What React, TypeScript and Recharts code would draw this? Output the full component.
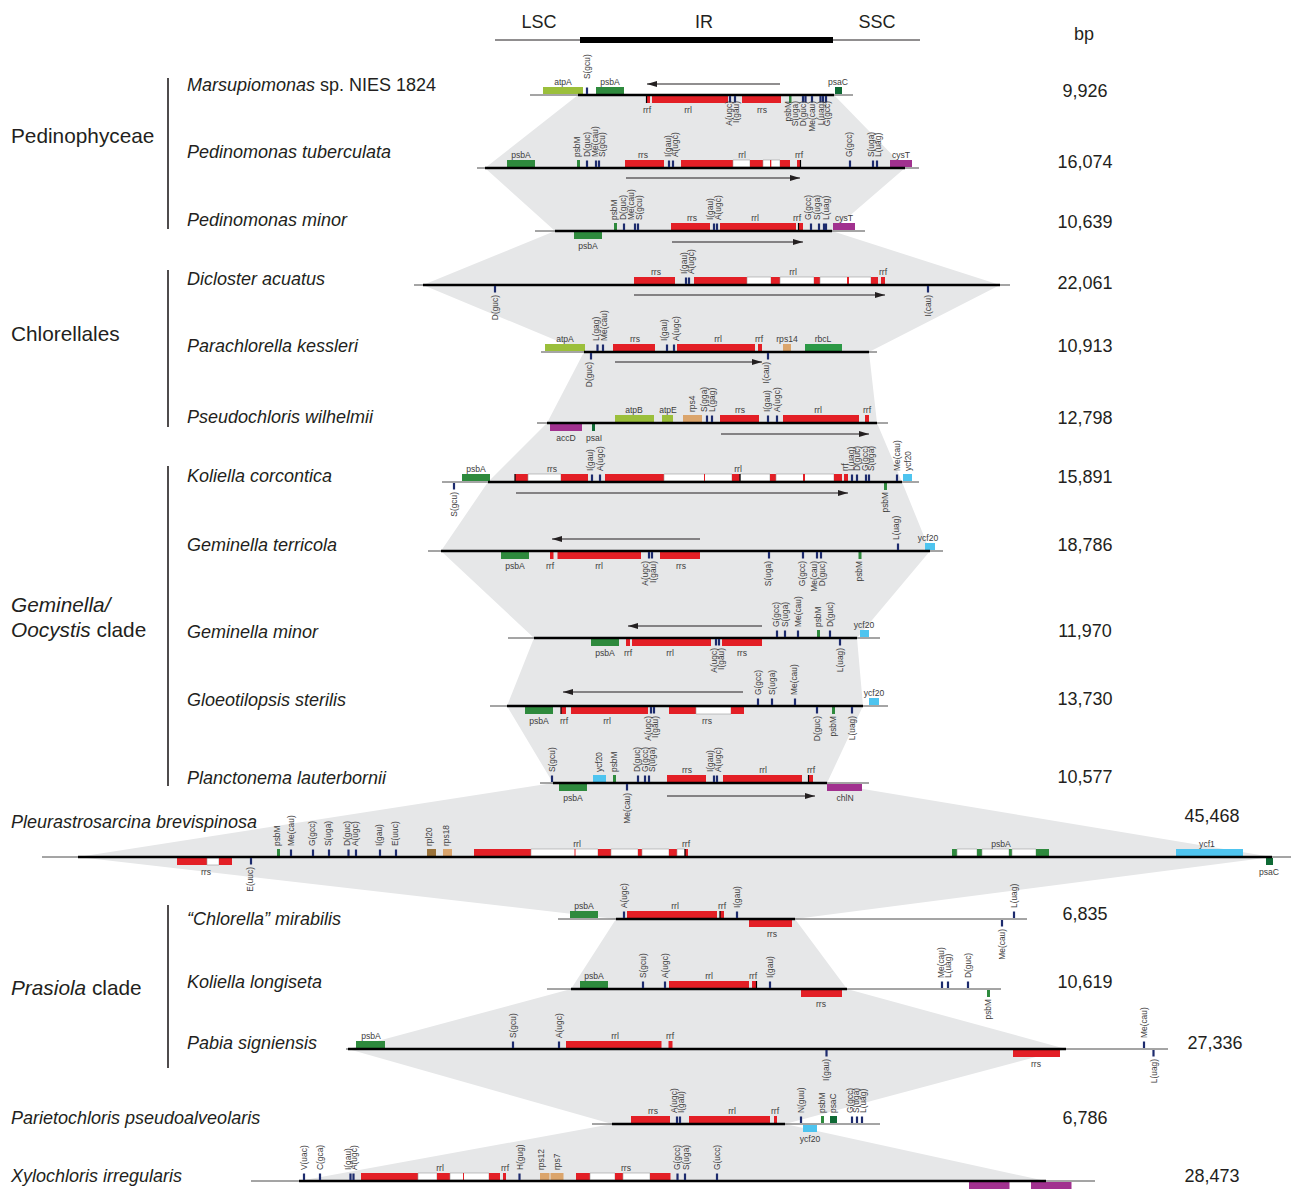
import React from 'react';
import { ComposedChart, Area, XAxis, YAxis, ReferenceArea, ReferenceLine, ReferenceDot } from 'recharts';

const W = 1291;
const H = 1193;
const FONT = '"Liberation Sans", Arial, Helvetica, sans-serif';

// [lineY, thinStart, thinEnd, thickStart, thickEnd]  (figure units)
const TRACKS: number[][] = [
  [95, 530, 853, 578, 834],
  [168, 477, 919, 485, 905],
  [231, 535, 865, 555, 832],
  [285, 414, 1010, 423, 1000],
  [352, 541, 877, 584, 869],
  [423, 537, 888, 547, 877],
  [482, 442, 919, 488, 902],
  [551, 428, 943, 441, 930],
  [638, 508, 880, 534, 857],
  [706, 490, 888, 507, 863],
  [783, 540, 869, 553, 827],
  [857, 42, 1291, 78, 1272],
  [919, 558, 1027, 616, 795],
  [989, 547, 1001, 571, 847],
  [1049, 346, 1168, 348, 1066],
  [1124, 592, 880, 612, 785],
  [1181, 251, 1095, 299, 1046],
];

// [x, baseline, parts [text, italic]]
const SPECIES: [number, number, [string, number][]][] = [
  [187, 91, [['Marsupiomonas', 1], [' sp. NIES 1824', 0]]],
  [187, 158, [['Pedinomonas tuberculata', 1]]],
  [187, 226, [['Pedinomonas minor', 1]]],
  [187, 285, [['Dicloster acuatus', 1]]],
  [187, 352, [['Parachlorella kessleri', 1]]],
  [187, 423, [['Pseudochloris wilhelmii', 1]]],
  [187, 482, [['Koliella corcontica', 1]]],
  [187, 551, [['Geminella terricola', 1]]],
  [187, 638, [['Geminella minor', 1]]],
  [187, 706, [['Gloeotilopsis sterilis', 1]]],
  [187, 784, [['Planctonema lauterbornii', 1]]],
  [11, 828, [['Pleurastrosarcina brevispinosa', 1]]],
  [187, 925, [['\u201cChlorella\u201d mirabilis', 1]]],
  [187, 988, [['Koliella longiseta', 1]]],
  [187, 1049, [['Pabia signiensis', 1]]],
  [11, 1124, [['Parietochloris pseudoalveolaris', 1]]],
  [11, 1182, [['Xylochloris irregularis', 1]]],
];

const GROUPS: [number, number, [string, number][]][] = [
  [11, 143, [['Pedinophyceae', 0]]],
  [11, 341, [['Chlorellales', 0]]],
  [11, 612, [['Geminella/', 1]]],
  [11, 637, [['Oocystis', 1], [' clade', 0]]],
  [11, 995, [['Prasiola', 1], [' clade', 0]]],
];

// bracket lines [x, yTop, yBottom]
const BRACKETS: number[][] = [
  [168, 78, 229],
  [168, 270, 427],
  [168, 466, 786],
  [168, 905, 1068],
];

// genome sizes [centerX, baseline, label]
const BP: [number, number, string][] = [
  [1085, 97, '9,926'], [1085, 168, '16,074'], [1085, 228, '10,639'], [1085, 289, '22,061'],
  [1085, 352, '10,913'], [1085, 424, '12,798'], [1085, 483, '15,891'], [1085, 551, '18,786'],
  [1085, 637, '11,970'], [1085, 705, '13,730'], [1085, 783, '10,577'], [1212, 822, '45,468'],
  [1085, 920, '6,835'], [1085, 988, '10,619'], [1215, 1049, '27,336'], [1085, 1124, '6,786'],
  [1212, 1182, '28,473'],
];

const HEADER: [number, number, string][] = [
  [539, 28, 'LSC'], [704, 28, 'IR'], [877, 28, 'SSC'], [1084, 40, 'bp'],
];

const COLORS: Record<string, string> = {
  r: '#e31f26', w: '#ffffff', g: '#2e8a3d', lg: '#9bbf3b', dg: '#0f6a35',
  p: '#a1318f', t: '#dba56c', b: '#9b733a', c: '#4ec4ef', rb: '#2c9946',
};

// genes [track, x1, x2, side(1 above / -1 below), kind]
const GENES: [number, number, number, number, string][] = [
  [0, 543, 583, 1, 'lg'], [0, 596, 624, 1, 'g'], [0, 835, 842, 1, 'dg'], [0, 647, 650, -1, 'r'], [0, 652, 728, -1, 'r'], [0, 742, 781, -1, 'r'], [0, 789, 791.5, -1, 'g'],
  [1, 507, 535, 1, 'g'], [1, 577, 580, 1, 'g'], [1, 625, 664, 1, 'r'], [1, 681, 733, 1, 'r'], [1, 733, 750, 1, 'w'], [1, 750, 763, 1, 'r'], [1, 763, 780, 1, 'w'], [1, 770, 771.3, 1, 'r'], [1, 780, 790, 1, 'r'], [1, 797, 800, 1, 'r'], [1, 890, 912, 1, 'p'],
  [2, 574, 602, -1, 'g'], [2, 614, 617, 1, 'g'], [2, 671, 710, 1, 'r'], [2, 720, 796, 1, 'r'], [2, 799, 803, 1, 'r'], [2, 833, 855, 1, 'p'],
  [3, 634, 675, 1, 'r'], [3, 694, 747, 1, 'r'], [3, 747, 771, 1, 'w'], [3, 771, 780, 1, 'r'], [3, 780, 814, 1, 'w'], [3, 814, 820, 1, 'r'], [3, 820, 871, 1, 'w'], [3, 847, 849, 1, 'r'], [3, 871, 878, 1, 'r'], [3, 881, 885, 1, 'r'],
  [4, 545, 585, 1, 'lg'], [4, 613, 655, 1, 'r'], [4, 677, 755, 1, 'r'], [4, 758, 762, 1, 'r'], [4, 783, 791, 1, 't'], [4, 805, 842, 1, 'rb'],
  [5, 615, 654, 1, 'lg'], [5, 662, 673, 1, 'lg'], [5, 683, 702, 1, 't'], [5, 720, 759, 1, 'r'], [5, 783, 859, 1, 'r'], [5, 865, 869, 1, 'r'], [5, 550, 582, -1, 'p'], [5, 592, 595, -1, 'dg'],
  [6, 462, 490, 1, 'g'], [6, 515, 528, 1, 'r'], [6, 528, 561, 1, 'w'], [6, 561, 588, 1, 'r'], [6, 605, 664, 1, 'r'], [6, 664, 732, 1, 'w'], [6, 704, 705, 1, 'r'], [6, 732, 740, 1, 'r'], [6, 740, 770, 1, 'w'], [6, 770, 776, 1, 'r'], [6, 776, 834, 1, 'w'], [6, 803, 805, 1, 'r'], [6, 834, 842, 1, 'r'], [6, 844, 848, 1, 'r'], [6, 903, 912, 1, 'c'], [6, 884, 887, -1, 'g'],
  [7, 501, 529, -1, 'g'], [7, 550, 553.5, -1, 'r'], [7, 557.5, 641, -1, 'r'], [7, 660, 700, -1, 'r'], [7, 858.5, 861.5, -1, 'g'], [7, 925, 935, 1, 'c'],
  [8, 591, 619, -1, 'g'], [8, 626, 630, -1, 'r'], [8, 632, 711, -1, 'r'], [8, 722, 762, -1, 'r'], [8, 817, 820, 1, 'g'], [8, 860, 869, 1, 'c'],
  [9, 525, 553, -1, 'g'], [9, 561, 566, -1, 'r'], [9, 571, 648, -1, 'r'], [9, 669, 696, -1, 'r'], [9, 696, 731, -1, 'w'], [9, 731, 744, -1, 'r'], [9, 832, 835, -1, 'g'], [9, 869, 879, 1, 'c'],
  [10, 593, 606, 1, 'c'], [10, 613, 616, 1, 'g'], [10, 667, 706, 1, 'r'], [10, 723, 802, 1, 'r'], [10, 809, 813, 1, 'r'], [10, 559, 587, -1, 'g'], [10, 827, 862, -1, 'p'],
  [11, 277, 280, 1, 'g'], [11, 427, 436, 1, 'b'], [11, 443, 452, 1, 't'], [11, 474, 531, 1, 'r'], [11, 531, 598, 1, 'w'], [11, 574.5, 575.5, 1, 'r'], [11, 598, 611, 1, 'r'], [11, 611, 638, 1, 'w'], [11, 638, 642, 1, 'r'], [11, 642, 669, 1, 'w'], [11, 669, 677, 1, 'r'], [11, 677, 685, 1, 'w'], [11, 685, 688, 1, 'r'],
  [11, 952, 957, 1, 'g'], [11, 957, 977, 1, 'w'], [11, 977, 982, 1, 'g'], [11, 982, 1009, 1, 'w'], [11, 1009, 1012, 1, 'g'], [11, 1012, 1036, 1, 'w'], [11, 1036, 1049, 1, 'g'], [11, 1176, 1243, 1, 'c'],
  [11, 177, 207, -1, 'r'], [11, 207, 219, -1, 'w'], [11, 219, 232, -1, 'r'], [11, 1266, 1273, -1, 'dg'],
  [12, 570, 598, 1, 'g'], [12, 627, 717, 1, 'r'], [12, 720, 724, 1, 'r'], [12, 749, 792, -1, 'r'],
  [13, 580, 608, 1, 'g'], [13, 669, 749, 1, 'r'], [13, 752, 756, 1, 'r'], [13, 801, 842, -1, 'r'], [13, 987, 990, -1, 'g'],
  [14, 356, 385, 1, 'g'], [14, 566, 661.5, 1, 'r'], [14, 668.5, 672.5, 1, 'r'], [14, 1013, 1060, -1, 'r'],
  [15, 631, 670, 1, 'r'], [15, 689, 770, 1, 'r'], [15, 774, 777, 1, 'r'], [15, 821, 824, 1, 'g'], [15, 830, 837, 1, 'dg'], [15, 803, 817, -1, 'c'],
  [16, 361, 418, 1, 'r'], [16, 418, 437, 1, 'w'], [16, 437, 450, 1, 'r'], [16, 450, 489, 1, 'w'], [16, 463, 464, 1, 'r'], [16, 489, 500, 1, 'r'], [16, 503, 506, 1, 'r'], [16, 540, 549.5, 1, 't'], [16, 550.5, 563.5, 1, 't'],
  [16, 576, 590, 1, 'r'], [16, 590, 615, 1, 'w'], [16, 615, 623, 1, 'r'], [16, 623, 650, 1, 'w'], [16, 650, 670.5, 1, 'r'], [16, 969, 1009.5, -1, 'p'], [16, 1031, 1071.5, -1, 'p'],
];

// tRNA genes [track, x, side]
const TRNAS: number[][] = [
  [0, 587, 1], [0, 730, -1], [0, 735, -1], [0, 803, -1], [0, 805.5, -1], [0, 812, -1], [0, 820.5, -1], [0, 823, -1], [0, 826, -1],
  [1, 587, 1], [1, 596, 1], [1, 599, 1], [1, 669, 1], [1, 673, 1], [1, 850, 1], [1, 873, 1], [1, 877, 1],
  [2, 624, 1], [2, 635, 1], [2, 638, 1], [2, 714, 1], [2, 717, 1], [2, 811, 1], [2, 819, 1], [2, 824, 1], [2, 826, 1],
  [3, 686, 1], [3, 689, 1], [3, 495, -1], [3, 928, -1],
  [4, 597.5, 1], [4, 603, 1], [4, 667, 1], [4, 674, 1], [4, 591, -1], [4, 768, -1],
  [5, 707, 1], [5, 712, 1], [5, 768, 1], [5, 777, 1],
  [6, 592, 1], [6, 600, 1], [6, 852, 1], [6, 857, 1], [6, 866, 1], [6, 869, 1], [6, 897, 1], [6, 454, -1],
  [7, 649, -1], [7, 652, -1], [7, 769, -1], [7, 803, -1], [7, 817, -1], [7, 821, -1], [7, 898, 1],
  [8, 777, 1], [8, 785, 1], [8, 798, 1], [8, 830, 1], [8, 716, -1], [8, 719, -1], [8, 840, -1],
  [9, 758, 1], [9, 772, 1], [9, 795, 1], [9, 651, -1], [9, 654, -1], [9, 817, -1], [9, 852, -1],
  [10, 552, 1], [10, 638, 1], [10, 645, 1], [10, 649, 1], [10, 714, 1], [10, 717, 1], [10, 627, -1],
  [11, 291, 1], [11, 313, 1], [11, 329, 1], [11, 348.5, 1], [11, 356, 1], [11, 380, 1], [11, 396, 1], [11, 251, -1],
  [12, 624, 1], [12, 737, 1], [12, 1014, 1], [12, 1002, -1],
  [13, 643, 1], [13, 665, 1], [13, 770, 1], [13, 942, 1], [13, 948, 1], [13, 968, 1],
  [14, 513, 1], [14, 559, 1], [14, 1144, 1], [14, 826.5, -1], [14, 1153.5, -1],
  [15, 677, 1], [15, 680, 1], [15, 801, 1], [15, 852, 1], [15, 857, 1], [15, 862, 1],
  [16, 304, 1], [16, 320, 1], [16, 350.5, 1], [16, 353.5, 1], [16, 519.5, 1], [16, 677.5, 1], [16, 685, 1], [16, 717, 1],
];

// black boundary ticks [track, x, side]
const BOUNDS: number[][] = [
  [0, 646.5, -1], [1, 800.5, 1], [2, 798.5, 1], [6, 515, 1], [6, 740, 1], [9, 561, -1],
  [10, 808.5, 1], [11, 685, 1], [12, 720, 1], [13, 756.5, 1],
];

// arrows [track, from, to, y]
const ARROWS: number[][] = [
  [0, 780, 647, 84], [1, 626, 800, 178], [2, 672, 803, 242], [3, 634, 885, 295], [4, 615, 762, 362],
  [5, 721, 869, 434], [6, 516, 848, 493], [7, 700, 552, 539], [8, 762, 628, 626], [9, 743, 563, 692],
  [10, 667, 815, 796],
];

// gene labels [track, x, text, side, rotated, extra offset]
const LABELS: [number, number, string, number, number, number?][] = [
  [0, 563, 'atpA', 1, 0], [0, 610, 'psbA', 1, 0], [0, 838, 'psaC', 1, 0], [0, 647, 'rrf', -1, 0], [0, 688, 'rrl', -1, 0], [0, 762, 'rrs', -1, 0],
  [0, 587, 'S(gcu)', 1, 1, -5], [0, 729, 'A(ugc)', -1, 1, -4], [0, 736, 'I(gau)', -1, 1, -4], [0, 788, 'psbM', -1, 1, -4], [0, 795, 'S(uga)', -1, 1, -4],
  [0, 803, 'D(guc)', -1, 1, -4], [0, 812, 'Me(cau)', -1, 1, -4], [0, 821, 'L(uag)', -1, 1, -4], [0, 827, 'G(gcc)', -1, 1, -4],
  [1, 521, 'psbA', 1, 0], [1, 643, 'rrs', 1, 0], [1, 742, 'rrl', 1, 0], [1, 799, 'rrf', 1, 0], [1, 901, 'cysT', 1, 0],
  [1, 577, 'psbM', 1, 1], [1, 587, 'D(guc)', 1, 1], [1, 595, 'Me(cau)', 1, 1], [1, 602, 'S(gcu)', 1, 1], [1, 668, 'I(gau)', 1, 1], [1, 675, 'A(ugc)', 1, 1],
  [1, 849, 'G(gcc)', 1, 1], [1, 871, 'S(uga)', 1, 1], [1, 878, 'L(uag)', 1, 1],
  [2, 692, 'rrs', 1, 0], [2, 755, 'rrl', 1, 0], [2, 797, 'rrf', 1, 0], [2, 844, 'cysT', 1, 0], [2, 588, 'psbA', -1, 0],
  [2, 614, 'psbM', 1, 1], [2, 623, 'D(guc)', 1, 1], [2, 631, 'Me(cau)', 1, 1], [2, 639, 'S(gcu)', 1, 1], [2, 710, 'I(gau)', 1, 1], [2, 718, 'A(ugc)', 1, 1],
  [2, 808, 'G(gcc)', 1, 1], [2, 817, 'S(uga)', 1, 1], [2, 826, 'L(uag)', 1, 1],
  [3, 656, 'rrs', 1, 0], [3, 793, 'rrl', 1, 0], [3, 883, 'rrf', 1, 0], [3, 684, 'I(gau)', 1, 1], [3, 691, 'A(ugc)', 1, 1], [3, 495, 'D(guc)', -1, 1], [3, 928, 'I(cau)', -1, 1],
  [4, 565, 'atpA', 1, 0], [4, 635, 'rrs', 1, 0], [4, 718, 'rrl', 1, 0], [4, 759, 'rrf', 1, 0], [4, 787, 'rps14', 1, 0], [4, 823, 'rbcL', 1, 0],
  [4, 596, 'L(gag)', 1, 1], [4, 604, 'Me(cau)', 1, 1], [4, 664, 'I(gau)', 1, 1], [4, 676, 'A(ugc)', 1, 1], [4, 589, 'D(guc)', -1, 1], [4, 766, 'I(cau)', -1, 1],
  [5, 634, 'atpB', 1, 0], [5, 668, 'atpE', 1, 0], [5, 740, 'rrs', 1, 0], [5, 818, 'rrl', 1, 0], [5, 867, 'rrf', 1, 0], [5, 566, 'accD', -1, 0], [5, 594, 'psaI', -1, 0],
  [5, 692, 'rps4', 1, 1], [5, 704, 'S(gga)', 1, 1], [5, 712, 'L(gag)', 1, 1], [5, 767, 'I(gau)', 1, 1], [5, 777, 'A(ugc)', 1, 1],
  [6, 476, 'psbA', 1, 0], [6, 552, 'rrs', 1, 0], [6, 738, 'rrl', 1, 0], [6, 590, 'I(gau)', 1, 1], [6, 600, 'A(ugc)', 1, 1], [6, 845, 'rrf', 1, 1],
  [6, 851, 'L(uag)', 1, 1], [6, 857, 'D(guc)', 1, 1], [6, 865, 'G(gcc)', 1, 1], [6, 871, 'S(uga)', 1, 1], [6, 897, 'Me(cau)', 1, 1], [6, 908, 'ycf20', 1, 1],
  [6, 454, 'S(gcu)', -1, 1], [6, 885, 'psbM', -1, 1],
  [7, 515, 'psbA', -1, 0], [7, 550, 'rrf', -1, 0], [7, 599, 'rrl', -1, 0], [7, 681, 'rrs', -1, 0], [7, 928, 'ycf20', 1, 0],
  [7, 645, 'A(ugc)', -1, 1], [7, 653, 'I(gau)', -1, 1], [7, 768, 'S(uga)', -1, 1], [7, 802, 'G(gcc)', -1, 1], [7, 814, 'Me(cau)', -1, 1], [7, 822, 'D(guc)', -1, 1],
  [7, 859, 'psbM', -1, 1], [7, 896, 'L(uag)', 1, 1],
  [8, 605, 'psbA', -1, 0], [8, 628, 'rrf', -1, 0], [8, 670, 'rrl', -1, 0], [8, 742, 'rrs', -1, 0], [8, 864, 'ycf20', 1, 0],
  [8, 776, 'G(gcc)', 1, 1], [8, 785, 'S(uga)', 1, 1], [8, 798, 'Me(cau)', 1, 1], [8, 818, 'psbM', 1, 1], [8, 830, 'D(guc)', 1, 1],
  [8, 714, 'A(ugc)', -1, 1], [8, 721, 'I(gau)', -1, 1], [8, 840, 'L(uag)', -1, 1],
  [9, 539, 'psbA', -1, 0], [9, 564, 'rrf', -1, 0], [9, 607, 'rrl', -1, 0], [9, 707, 'rrs', -1, 0], [9, 874, 'ycf20', 1, 0],
  [9, 758, 'G(gcc)', 1, 1], [9, 772, 'S(uga)', 1, 1], [9, 794, 'Me(cau)', 1, 1],
  [9, 648, 'A(ugc)', -1, 1], [9, 655, 'I(gau)', -1, 1], [9, 817, 'D(guc)', -1, 1], [9, 833, 'psbM', -1, 1], [9, 852, 'L(uag)', -1, 1],
  [10, 687, 'rrs', 1, 0], [10, 763, 'rrl', 1, 0], [10, 811, 'rrf', 1, 0], [10, 573, 'psbA', -1, 0], [10, 845, 'chlN', -1, 0],
  [10, 552, 'S(gcu)', 1, 1], [10, 599, 'ycf20', 1, 1], [10, 614, 'psbM', 1, 1], [10, 637, 'D(guc)', 1, 1], [10, 645, 'G(gcc)', 1, 1], [10, 652, 'S(uga)', 1, 1],
  [10, 710, 'I(gau)', 1, 1], [10, 718, 'A(ugc)', 1, 1], [10, 627, 'Me(cau)', -1, 1],
  [11, 577, 'rrl', 1, 0], [11, 686, 'rrf', 1, 0], [11, 1001, 'psbA', 1, 0], [11, 1207, 'ycf1', 1, 0], [11, 206, 'rrs', -1, 0], [11, 1269, 'psaC', -1, 0],
  [11, 277, 'psbM', 1, 1], [11, 291, 'Me(cau)', 1, 1], [11, 312, 'G(gcc)', 1, 1], [11, 328, 'S(uga)', 1, 1], [11, 347, 'D(guc)', 1, 1], [11, 355, 'A(ugc)', 1, 1],
  [11, 379, 'I(gau)', 1, 1], [11, 395, 'E(uuc)', 1, 1], [11, 429, 'rpl20', 1, 1], [11, 446, 'rps18', 1, 1], [11, 250, 'E(uuc)', -1, 1],
  [12, 584, 'psbA', 1, 0], [12, 675, 'rrl', 1, 0], [12, 722, 'rrf', 1, 0], [12, 772, 'rrs', -1, 0],
  [12, 624, 'A(ugc)', 1, 1], [12, 737, 'I(gau)', 1, 1], [12, 1014, 'L(uag)', 1, 1], [12, 1002, 'Me(cau)', -1, 1],
  [13, 594, 'psbA', 1, 0], [13, 709, 'rrl', 1, 0], [13, 753, 'rrf', 1, 0], [13, 821, 'rrs', -1, 0],
  [13, 643, 'S(gcu)', 1, 1], [13, 665, 'A(ugc)', 1, 1], [13, 770, 'I(gau)', 1, 1], [13, 941, 'Me(cau)', 1, 1], [13, 948, 'L(uag)', 1, 1], [13, 968, 'D(guc)', 1, 1],
  [13, 988, 'psbM', -1, 1],
  [14, 371, 'psbA', 1, 0], [14, 615, 'rrl', 1, 0], [14, 670, 'rrf', 1, 0], [14, 1036, 'rrs', -1, 0],
  [14, 513, 'S(gcu)', 1, 1], [14, 559, 'A(ugc)', 1, 1], [14, 1144, 'Me(cau)', 1, 1], [14, 826, 'I(gau)', -1, 1], [14, 1154, 'L(uag)', -1, 1],
  [15, 653, 'rrs', 1, 0], [15, 732, 'rrl', 1, 0], [15, 775, 'rrf', 1, 0], [15, 810, 'ycf20', -1, 0],
  [15, 674, 'A(ugc)', 1, 1], [15, 681, 'I(gau)', 1, 1], [15, 801, 'N(guu)', 1, 1], [15, 822, 'psbM', 1, 1], [15, 833, 'psaC', 1, 1],
  [15, 850, 'G(gcc)', 1, 1], [15, 856, 'S(uga)', 1, 1], [15, 863, 'L(uag)', 1, 1],
  [16, 440, 'rrl', 1, 0], [16, 505, 'rrf', 1, 0], [16, 626, 'rrs', 1, 0],
  [16, 304, 'V(uac)', 1, 1], [16, 320, 'C(gca)', 1, 1], [16, 348, 'I(gau)', 1, 1], [16, 354, 'A(ugc)', 1, 1], [16, 520, 'H(gug)', 1, 1],
  [16, 541, 'rps12', 1, 1], [16, 557, 'rps7', 1, 1], [16, 677, 'G(gcc)', 1, 1], [16, 686, 'S(uga)', 1, 1], [16, 717, 'G(ucc)', 1, 1],
];

const TEXT_COLOR = '#231f20';
const SMALL_COLOR = '#3c3c3c';

function richText(parts: [string, number][], size: number, anchor = 'start') {
  return (p: any) => (
    <text x={p.cx} y={p.cy} fontSize={size} fontFamily={FONT} fill={TEXT_COLOR} textAnchor={anchor}>
      {parts.map((pt, i) => (
        <tspan key={i} fontStyle={pt[1] ? 'italic' : 'normal'}>{pt[0]}</tspan>
      ))}
    </text>
  );
}

function smallText(t: string, side: number, rot: number) {
  if (!rot) {
    return (p: any) => (
      <text x={p.cx} y={p.cy} fontSize={8.6} fontFamily={FONT} fill={SMALL_COLOR} textAnchor="middle">{t}</text>
    );
  }
  return (p: any) => (
    <text
      x={p.cx}
      y={p.cy}
      dy="0.35em"
      transform={`rotate(-90 ${p.cx} ${p.cy})`}
      fontSize={8.4}
      fontFamily={FONT}
      fill={SMALL_COLOR}
      textAnchor={side > 0 ? 'start' : 'end'}
    >
      {t}
    </text>
  );
}

function arrowHead(dir: number) {
  return (p: any) => (
    <polygon
      points={`${p.cx},${p.cy} ${p.cx - dir * 10},${p.cy - 3} ${p.cx - dir * 10},${p.cy + 3}`}
      fill="#231f20"
    />
  );
}

export default function App() {
  const chain = TRACKS.map((t) => ({ y: t[0], range: [t[3], t[4]] }));

  return (
    <div style={{ position: 'absolute', left: 0, top: 0, width: W, height: H, background: '#fff' }}>
      <ComposedChart layout="vertical" width={W} height={H} data={chain} margin={{ top: 0, right: 0, bottom: 0, left: 0 }}>
        <XAxis type="number" domain={[0, W]} hide allowDataOverflow />
        <YAxis type="number" dataKey="y" domain={[0, H]} hide allowDataOverflow />

        <Area
          dataKey="range"
          type="linear"
          fill="#e6e7e8"
          fillOpacity={1}
          stroke="none"
          dot={false}
          activeDot={false}
          isAnimationActive={false}
        />

        {/* header: LSC / IR / SSC bar */}
        <ReferenceLine segment={[{ x: 495, y: 40 }, { x: 920, y: 40 }]} stroke="#231f20" strokeWidth={1} zIndex={700} />
        <ReferenceArea x1={580} x2={833} y1={37} y2={43} fill="#000" fillOpacity={1} stroke="none" zIndex={700} />

        {BRACKETS.map((b, i) => (
          <ReferenceLine key={`br${i}`} segment={[{ x: b[0], y: b[1] }, { x: b[0], y: b[2] }]} stroke="#231f20" strokeWidth={1.6} zIndex={700} />
        ))}

        {GENES.map((g, i) => {
          const y = TRACKS[g[0]][0];
          const [y1, y2] = g[3] > 0 ? [y - 8, y - 1] : [y + 1, y + 8];
          return (
            <ReferenceArea
              key={`g${i}`}
              x1={g[1]}
              x2={g[2]}
              y1={y1}
              y2={y2}
              fill={COLORS[g[4]]}
              fillOpacity={1}
              stroke={g[4] === 'w' ? '#9a9a9a' : 'none'}
              strokeWidth={0.6}
              zIndex={710}
            />
          );
        })}

        {TRACKS.map((t, i) => (
          <ReferenceLine key={`thin${i}`} segment={[{ x: t[1], y: t[0] }, { x: t[2], y: t[0] }]} stroke="#4a4a4a" strokeWidth={1} zIndex={720} />
        ))}
        {TRACKS.map((t, i) => (
          <ReferenceLine key={`thick${i}`} segment={[{ x: t[3], y: t[0] }, { x: t[4], y: t[0] }]} stroke="#000" strokeWidth={2.6} zIndex={721} />
        ))}

        {TRNAS.map((r, i) => {
          const y = TRACKS[r[0]][0];
          const [y1, y2] = r[2] > 0 ? [y - 7.5, y - 1] : [y + 1, y + 7.5];
          return (
            <ReferenceArea key={`t${i}`} x1={r[1] - 1.1} x2={r[1] + 1.1} y1={y1} y2={y2} fill="#1d2b6d" fillOpacity={1} stroke="none" zIndex={730} />
          );
        })}
        {BOUNDS.map((r, i) => {
          const y = TRACKS[r[0]][0];
          const [y1, y2] = r[2] > 0 ? [y - 8, y] : [y, y + 8];
          return (
            <ReferenceArea key={`b${i}`} x1={r[1] - 0.6} x2={r[1] + 0.6} y1={y1} y2={y2} fill="#000" fillOpacity={1} stroke="none" zIndex={730} />
          );
        })}

        {ARROWS.map((a, i) => (
          <ReferenceLine key={`al${i}`} segment={[{ x: a[1], y: a[3] }, { x: a[2], y: a[3] }]} stroke="#231f20" strokeWidth={1.2} zIndex={740} />
        ))}
        {ARROWS.map((a, i) => (
          <ReferenceDot key={`ah${i}`} x={a[2]} y={a[3]} r={0} shape={arrowHead(a[2] > a[1] ? 1 : -1)} ifOverflow="visible" zIndex={741} />
        ))}

        {LABELS.map((l, i) => {
          const y = TRACKS[l[0]][0];
          const off = l[5] ?? 0;
          let ly: number;
          if (l[4]) ly = l[3] > 0 ? y - 11 + off : y + 10 + off;
          else ly = l[3] > 0 ? y - 10 + off : y + 18 + off;
          return (
            <ReferenceDot key={`l${i}`} x={l[1]} y={ly} r={0} shape={smallText(l[2], l[3], l[4])} ifOverflow="visible" zIndex={750} />
          );
        })}

        {HEADER.map((h, i) => (
          <ReferenceDot key={`h${i}`} x={h[0]} y={h[1]} r={0} shape={richText([[h[2], 0]], 18, 'middle')} ifOverflow="visible" zIndex={750} />
        ))}
        {SPECIES.map((s, i) => (
          <ReferenceDot key={`s${i}`} x={s[0]} y={s[1]} r={0} shape={richText(s[2], 18)} ifOverflow="visible" zIndex={750} />
        ))}
        {GROUPS.map((s, i) => (
          <ReferenceDot key={`gr${i}`} x={s[0]} y={s[1]} r={0} shape={richText(s[2], 20.8)} ifOverflow="visible" zIndex={750} />
        ))}
        {BP.map((b, i) => (
          <ReferenceDot key={`bp${i}`} x={b[0]} y={b[1]} r={0} shape={richText([[b[2], 0]], 18, 'middle')} ifOverflow="visible" zIndex={750} />
        ))}
      </ComposedChart>
    </div>
  );
}
